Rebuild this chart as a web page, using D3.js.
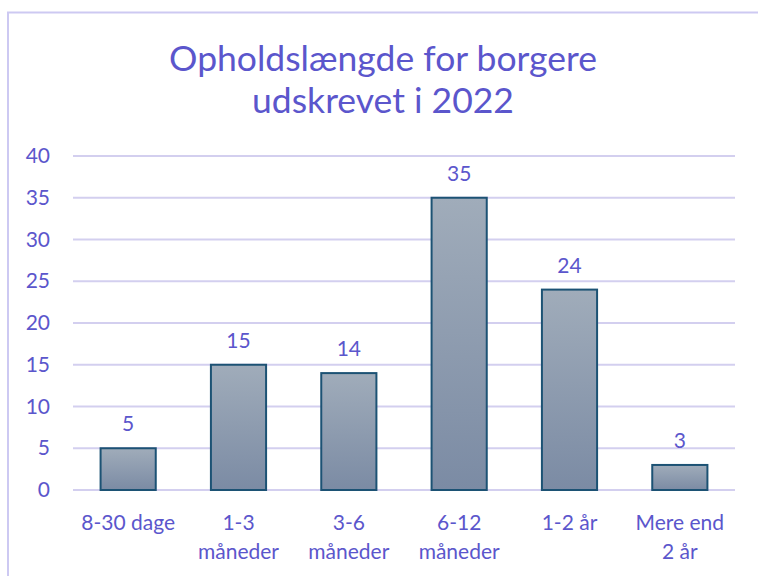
<!DOCTYPE html>
<html>
<head>
<meta charset="utf-8">
<script src="https://cdn.jsdelivr.net/npm/d3@7"></script>
<style>
  body { margin: 0; background: #fff; }
  svg { display: block; }
  text { font-family: Lato, "Open Sans", sans-serif; }
</style>
</head>
<body>
<div id="chart"></div>
<script>
// data
const categories = ["8-30 dage", "1-3\nmåneder", "3-6\nmåneder", "6-12\nmåneder", "1-2 år", "Mere end\n2 år"];
const values = [5, 15, 14, 35, 24, 3];
const yTicks = [0, 5, 10, 15, 20, 25, 30, 35, 40];
const titleLines = ["Opholdslængde for borgere", "udskrevet i 2022"];

const W = 758, H = 576;
const plotLeft = 73, plotRight = 735, plotTop = 156, plotBottom = 490;
const textColor = "#5b56cc";

const svg = d3.select("#chart").append("svg")
  .attr("width", W)
  .attr("height", H);

const defs = svg.append("defs");
const grad = defs.append("linearGradient")
  .attr("id", "barGrad")
  .attr("x1", 0).attr("y1", 0).attr("x2", 0).attr("y2", 1);
grad.append("stop").attr("offset", "0%").attr("stop-color", "#a0acba");
grad.append("stop").attr("offset", "100%").attr("stop-color", "#7b8ba4");

// chart frame (runs off the right and bottom edges)
svg.append("rect")
  .attr("x", 8).attr("y", 12.5)
  .attr("width", 800).attr("height", 600)
  .attr("fill", "none")
  .attr("stroke", "#cdc9f2")
  .attr("stroke-width", 2);

// title
svg.append("g").selectAll("text")
  .data(titleLines)
  .enter().append("text")
  .attr("x", 383)
  .attr("y", (d, i) => 71 + i * 42)
  .attr("text-anchor", "middle")
  .style("font-size", "35.5px")
  .style("fill", textColor)
  .text(d => d);

const x = d3.scaleBand()
  .domain(categories)
  .range([plotLeft, plotRight])
  .paddingInner(0.5)
  .paddingOuter(0.25);

const y = d3.scaleLinear()
  .domain([0, 40])
  .range([plotBottom, plotTop]);

// gridlines
svg.append("g").selectAll("line")
  .data(yTicks)
  .enter().append("line")
  .attr("x1", plotLeft).attr("x2", plotRight)
  .attr("y1", d => y(d)).attr("y2", d => y(d))
  .attr("stroke", "#d3cfef")
  .attr("stroke-width", 2);

// y axis labels
const yAxis = svg.append("g")
  .attr("transform", "translate(" + plotLeft + ",0)")
  .call(d3.axisLeft(y).tickValues(yTicks).tickSize(0).tickPadding(23));
yAxis.select(".domain").remove();
yAxis.selectAll("text")
  .style("font-family", "Lato, 'Open Sans', sans-serif")
  .style("font-size", "21px")
  .style("fill", textColor);

// bars
svg.append("g").selectAll("rect")
  .data(values)
  .enter().append("rect")
  .attr("x", (d, i) => x(categories[i]))
  .attr("y", d => y(d))
  .attr("width", x.bandwidth())
  .attr("height", d => y(0) - y(d))
  .attr("fill", "url(#barGrad)")
  .attr("stroke", "#1c5274")
  .attr("stroke-width", 2);

// value labels
svg.append("g").selectAll("text")
  .data(values)
  .enter().append("text")
  .attr("x", (d, i) => x(categories[i]) + x.bandwidth() / 2)
  .attr("y", d => y(d) - 17)
  .attr("text-anchor", "middle")
  .style("font-size", "21px")
  .style("fill", textColor)
  .text(d => d);

// category labels
const cat = svg.append("g").selectAll("text")
  .data(categories)
  .enter().append("text")
  .attr("x", d => x(d) + x.bandwidth() / 2)
  .attr("y", 530)
  .attr("text-anchor", "middle")
  .style("font-size", "21px")
  .style("fill", textColor);
cat.selectAll("tspan")
  .data(d => d.split("\n"))
  .enter().append("tspan")
  .attr("x", function () { return d3.select(this.parentNode).attr("x"); })
  .attr("dy", (d, i) => i === 0 ? 0 : 29)
  .text(d => d);
</script>
</body>
</html>
